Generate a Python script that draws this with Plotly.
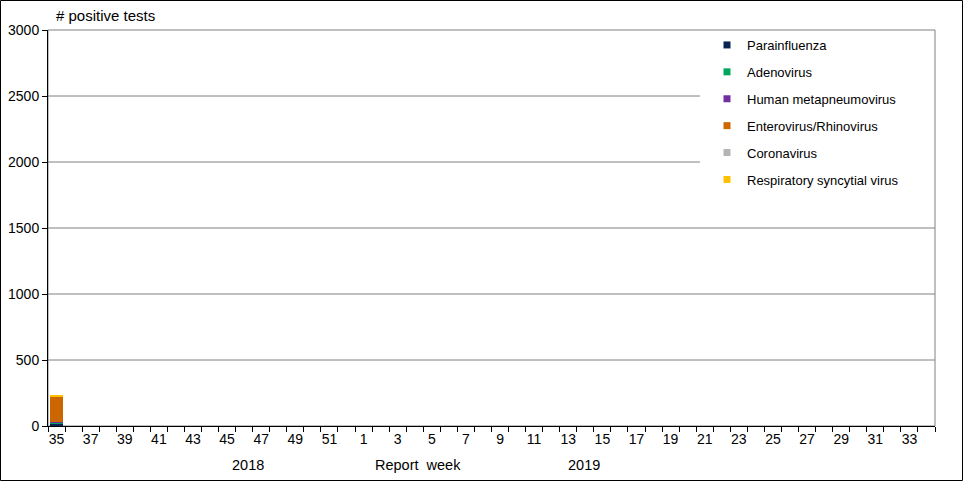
import plotly.graph_objects as go

# report weeks: 2018 wk 35-52, 2019 wk 1-34
weeks = [str(w) for w in range(35, 53)] + [str(w) for w in range(1, 35)]

# positive tests per virus (only the first week has been reported so far)
parainfluenza = [22] + [0] * 51
adenovirus = [6] + [0] * 51
metapneumovirus = [5] + [0] * 51
entero_rhino = [190] + [0] * 51
coronavirus = [2] + [0] * 51
rsv = [5] + [0] * 51

series = [
    ('Parainfluenza', parainfluenza, '#0b2352'),
    ('Adenovirus', adenovirus, '#00a65a'),
    ('Human metapneumovirus', metapneumovirus, '#7030a0'),
    ('Enterovirus/Rhinovirus', entero_rhino, '#cc6600'),
    ('Coronavirus', coronavirus, '#b4b4b4'),
    ('Respiratory syncytial virus', rsv, '#ffc000'),
]

W, H = 963, 481
ml, mr, mt, mb = 48, 28, 30, 55
pw, ph = W - ml - mr, H - mt - mb

idx = list(range(len(weeks)))

fig = go.Figure()
for i, (name, vals, col) in enumerate(series):
    fig.add_trace(go.Bar(x=idx, y=vals, name=name, marker_color=col,
                         marker_line_width=0, showlegend=False))
    # small square legend keys
    fig.add_trace(go.Scatter(x=[None], y=[None], mode='markers', name=name,
                             marker=dict(symbol='square', size=7, color=col),
                             legendgroup=str(i)))

fig.update_layout(
    width=W, height=H, barmode='stack', bargap=0.22,
    margin=dict(l=ml, r=mr, t=mt, b=mb),
    plot_bgcolor='white', paper_bgcolor='white',
    font=dict(family='Arial, Liberation Sans', size=14, color='black'),
    legend=dict(x=(707 - ml) / pw, y=1, xanchor='left', yanchor='top',
                bgcolor='rgba(0,0,0,0)', traceorder='grouped',
                tracegroupgap=7, font=dict(size=13), itemwidth=30),
)

fig.update_xaxes(
    range=[-0.5, len(weeks) - 0.5], automargin=False,
    tickmode='array', tickvals=idx[::2], ticktext=weeks[::2],
    ticks='', showline=True, linecolor='black', linewidth=1,
    showgrid=False, zeroline=False,
    minor=dict(tickmode='array', tickvals=[i - 0.5 for i in range(len(weeks) + 1)],
               ticks='outside', ticklen=5, tickcolor='black'),
)
fig.update_yaxes(
    range=[0, 3000], dtick=500, ticks='outside', ticklen=5, tickcolor='black',
    showline=True, linecolor='black', linewidth=1, automargin=False,
    showgrid=False, zeroline=False,
)

# gridlines; the upper ones stop at the legend box
legend_left = (700 - ml) / pw
for g in [500, 1000, 1500, 2000, 2500]:
    fig.add_shape(type='line', xref='paper', yref='y', x0=0,
                  x1=legend_left if g >= 2000 else 1, y0=g, y1=g,
                  line=dict(color='#808080', width=1), layer='below')
# grey plot frame (top/right)
fig.add_shape(type='rect', xref='paper', yref='paper', x0=0, x1=1, y0=0, y1=1,
              line=dict(color='#808080', width=1), layer='below')
# black outer border
fig.add_shape(type='rect', xref='paper', yref='paper',
              x0=-(ml - 0.5) / pw, x1=1 + (mr - 0.5) / pw,
              y0=-(mb - 0.5) / ph, y1=1 + (mt - 0.5) / ph,
              line=dict(color='black', width=1))

fig.add_annotation(text='# positive tests', xref='paper', yref='paper',
                   x=(54 - ml) / pw, y=1 + 4 / ph, xanchor='left', yanchor='bottom',
                   showarrow=False, font=dict(size=15))
for txt, xpos in [('2018', 11.2), ('Report  week', 21.2), ('2019', 30.9)]:
    fig.add_annotation(text=txt, x=xpos, xref='x', yref='paper', y=-(465 - 426) / ph,
                       yanchor='middle', showarrow=False, font=dict(size=14.5))

fig.write_html('out.html', config={'displayModeBar': False},
               post_script="document.body.style.margin='0';document.body.style.overflow='hidden';")
